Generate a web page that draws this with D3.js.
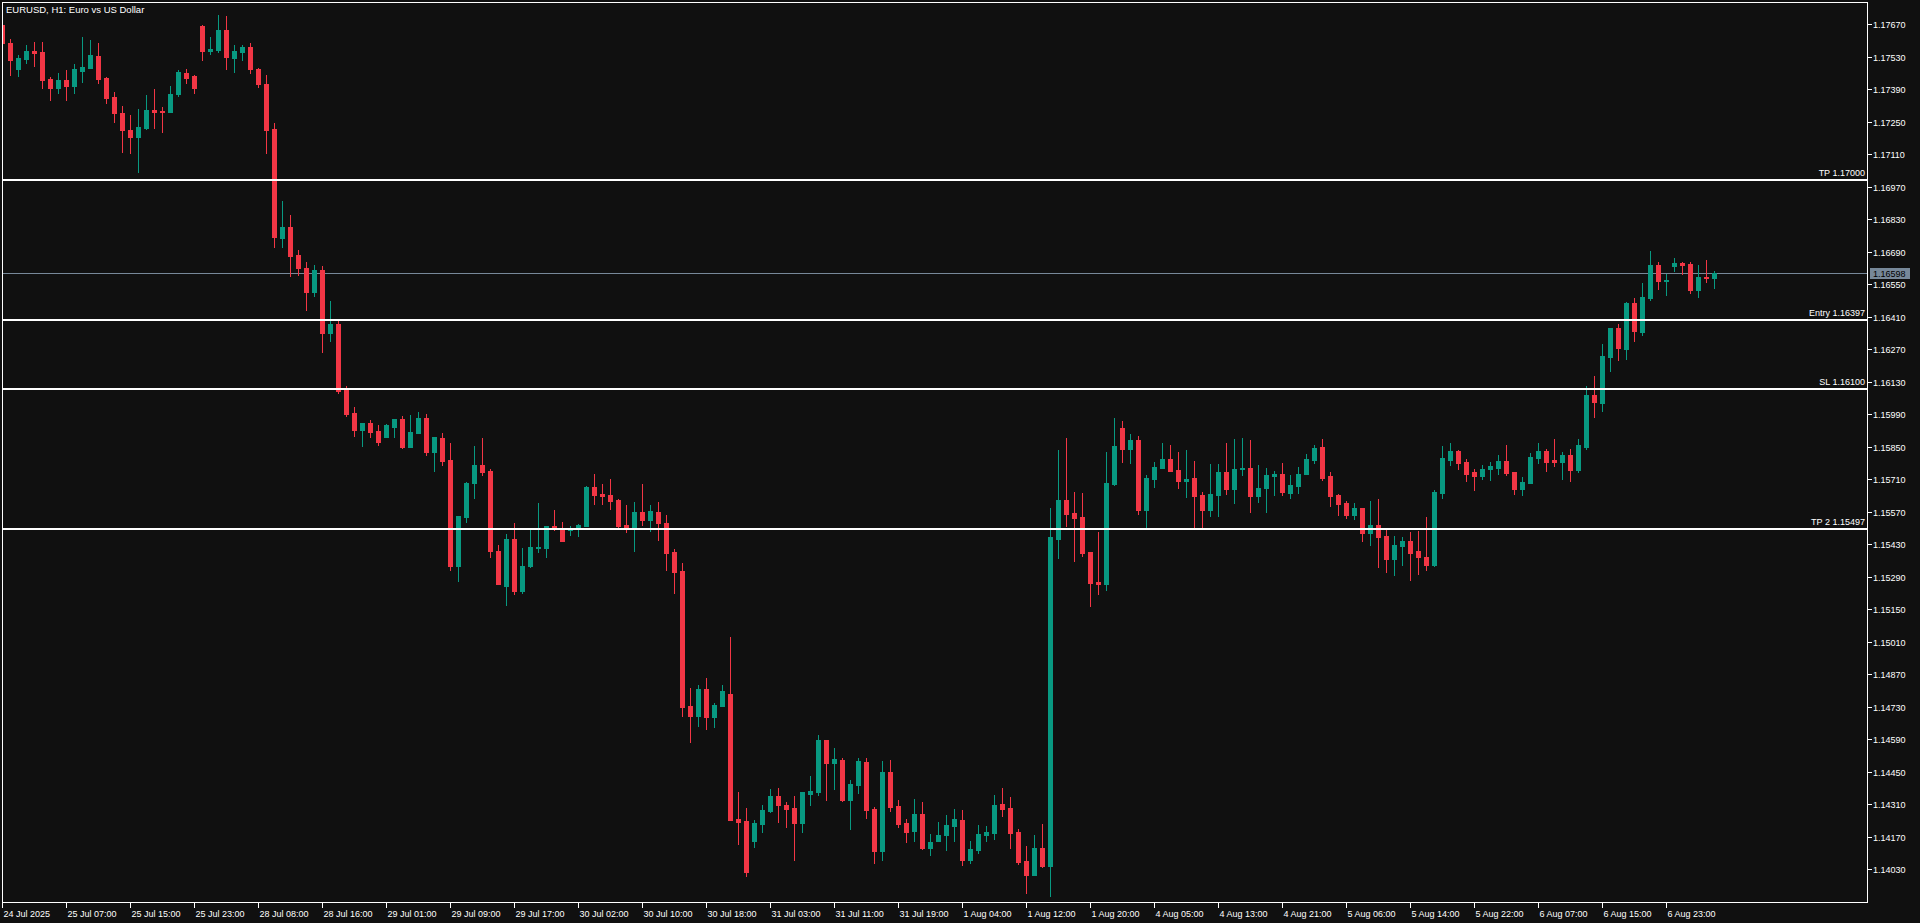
<!DOCTYPE html>
<html><head><meta charset="utf-8">
<script src="https://cdn.jsdelivr.net/npm/d3@7"></script>
<style>html,body{margin:0;padding:0;background:#101010;overflow:hidden}svg{display:block}</style>
</head><body>
<svg id="c" width="1920" height="923"></svg>
<script>
const chartTitle = "EURUSD, H1:  Euro vs US Dollar";

const open = [1.17666,1.17588,1.17476,1.17519,1.17554,1.17549,1.17433,1.17394,1.17429,1.17403,1.17468,1.17480,1.17532,1.17437,1.17356,1.17287,1.17214,1.17183,1.17222,1.17300,1.17295,1.17291,1.17369,1.17459,1.17446,1.17661,1.17554,1.17558,1.17644,1.17524,1.17549,1.17571,1.17476,1.17412,1.17218,1.16748,1.16796,1.16675,1.16619,1.16516,1.16611,1.16339,1.16378,1.16094,1.15995,1.15922,1.15952,1.15917,1.15892,1.15935,1.15969,1.15849,1.15909,1.15973,1.15827,1.15887,1.15793,1.15336,1.15547,1.15694,1.15771,1.15745,1.15401,1.15250,1.15452,1.15228,1.15336,1.15414,1.15414,1.15508,1.15500,1.15491,1.15504,1.15508,1.15676,1.15646,1.15642,1.15620,1.15513,1.15504,1.15569,1.15534,1.15569,1.15521,1.15396,1.15315,1.14733,1.14690,1.14806,1.14686,1.14733,1.14785,1.14247,1.14238,1.14152,1.14225,1.14281,1.14346,1.14307,1.14294,1.14229,1.14354,1.14363,1.14587,1.14488,1.14501,1.14328,1.14393,1.14492,1.14290,1.14109,1.14449,1.14303,1.14229,1.14195,1.14268,1.14122,1.14152,1.14178,1.14217,1.14242,1.14070,1.14113,1.14178,1.14186,1.14311,1.14294,1.14191,1.14066,1.14006,1.14122,1.14044,1.15452,1.15620,1.15564,1.15547,1.15396,1.15267,1.15259,1.15689,1.15930,1.15840,1.15879,1.15577,1.15711,1.15758,1.15797,1.15750,1.15702,1.15715,1.15642,1.15577,1.15642,1.15741,1.15668,1.15754,1.15758,1.15638,1.15672,1.15724,1.15732,1.15650,1.15681,1.15732,1.15793,1.15849,1.15724,1.15642,1.15607,1.15556,1.15586,1.15478,1.15513,1.15465,1.15366,1.15422,1.15444,1.15401,1.15375,1.15340,1.15650,1.15793,1.15831,1.15784,1.15741,1.15724,1.15754,1.15758,1.15788,1.15741,1.15668,1.15694,1.15801,1.15831,1.15793,1.15784,1.15814,1.15750,1.15849,1.16072,1.16038,1.16236,1.16361,1.16271,1.16469,1.16344,1.16490,1.16632,1.16563,1.16628,1.16641,1.16637,1.16525,1.16581,1.16576];

const high = [1.17674,1.17605,1.17536,1.17580,1.17592,1.17592,1.17442,1.17459,1.17472,1.17498,1.17614,1.17601,1.17588,1.17442,1.17377,1.17317,1.17278,1.17304,1.17364,1.17390,1.17313,1.17403,1.17472,1.17476,1.17450,1.17666,1.17614,1.17709,1.17704,1.17580,1.17580,1.17588,1.17480,1.17450,1.17244,1.16908,1.16848,1.16697,1.16645,1.16632,1.16628,1.16477,1.16395,1.16111,1.16021,1.15952,1.15965,1.15943,1.15948,1.15969,1.15982,1.15986,1.15999,1.15991,1.15892,1.15909,1.15866,1.15551,1.15698,1.15853,1.15887,1.15754,1.15427,1.15474,1.15521,1.15414,1.15495,1.15607,1.15508,1.15577,1.15526,1.15508,1.15517,1.15681,1.15732,1.15689,1.15711,1.15625,1.15599,1.15612,1.15689,1.15599,1.15612,1.15556,1.15409,1.15349,1.14811,1.14824,1.14854,1.14746,1.14824,1.15030,1.14363,1.14294,1.14242,1.14307,1.14376,1.14380,1.14320,1.14346,1.14363,1.14432,1.14608,1.14587,1.14552,1.14509,1.14415,1.14509,1.14509,1.14298,1.14496,1.14501,1.14328,1.14247,1.14333,1.14320,1.14182,1.14234,1.14264,1.14290,1.14285,1.14152,1.14221,1.14217,1.14350,1.14380,1.14341,1.14204,1.14130,1.14178,1.14225,1.15586,1.15836,1.15887,1.15655,1.15650,1.15396,1.15483,1.15827,1.15973,1.15960,1.15905,1.15896,1.15728,1.15784,1.15866,1.15857,1.15827,1.15836,1.15788,1.15655,1.15775,1.15775,1.15866,1.15883,1.15887,1.15879,1.15771,1.15758,1.15745,1.15780,1.15728,1.15762,1.15818,1.15857,1.15883,1.15741,1.15646,1.15616,1.15607,1.15586,1.15616,1.15625,1.15495,1.15465,1.15461,1.15483,1.15487,1.15547,1.15663,1.15853,1.15866,1.15836,1.15797,1.15754,1.15771,1.15784,1.15814,1.15857,1.15741,1.15719,1.15823,1.15866,1.15840,1.15883,1.15827,1.15840,1.15883,1.16111,1.16154,1.16292,1.16361,1.16378,1.16473,1.16490,1.16555,1.16692,1.16645,1.16593,1.16662,1.16645,1.16645,1.16632,1.16654,1.16606];

const low = [1.17584,1.17450,1.17446,1.17502,1.17489,1.17394,1.17343,1.17373,1.17343,1.17373,1.17420,1.17480,1.17416,1.17330,1.17248,1.17119,1.17114,1.17033,1.17218,1.17222,1.17205,1.17291,1.17360,1.17416,1.17373,1.17515,1.17541,1.17549,1.17476,1.17463,1.17515,1.17459,1.17399,1.17114,1.16710,1.16710,1.16585,1.16589,1.16438,1.16499,1.16258,1.16305,1.16081,1.15982,1.15896,1.15853,1.15892,1.15857,1.15892,1.15892,1.15844,1.15849,1.15909,1.15814,1.15745,1.15771,1.15319,1.15272,1.15526,1.15629,1.15728,1.15375,1.15259,1.15168,1.15216,1.15220,1.15332,1.15396,1.15375,1.15491,1.15444,1.15470,1.15465,1.15508,1.15603,1.15603,1.15582,1.15504,1.15483,1.15401,1.15513,1.15487,1.15448,1.15319,1.15220,1.14690,1.14578,1.14647,1.14634,1.14643,1.14733,1.14242,1.14139,1.14001,1.14126,1.14191,1.14277,1.14234,1.14212,1.14070,1.14191,1.14307,1.14350,1.14328,1.14376,1.14324,1.14204,1.14359,1.14251,1.14057,1.14070,1.14281,1.14212,1.14148,1.14152,1.14118,1.14092,1.14152,1.14113,1.14152,1.14049,1.14057,1.14100,1.14152,1.14161,1.14260,1.14122,1.14053,1.13928,1.14006,1.14040,1.13915,1.15371,1.15508,1.15358,1.15379,1.15164,1.15216,1.15233,1.15685,1.15784,1.15780,1.15560,1.15504,1.15676,1.15758,1.15745,1.15672,1.15633,1.15504,1.15504,1.15551,1.15551,1.15646,1.15607,1.15728,1.15569,1.15612,1.15569,1.15642,1.15642,1.15629,1.15650,1.15732,1.15780,1.15706,1.15594,1.15556,1.15543,1.15538,1.15444,1.15427,1.15332,1.15310,1.15297,1.15340,1.15276,1.15302,1.15319,1.15336,1.15629,1.15771,1.15754,1.15702,1.15663,1.15711,1.15706,1.15732,1.15728,1.15646,1.15642,1.15694,1.15780,1.15745,1.15767,1.15711,1.15702,1.15741,1.15840,1.15978,1.16004,1.16176,1.16223,1.16227,1.16305,1.16331,1.16482,1.16529,1.16503,1.16606,1.16593,1.16512,1.16494,1.16559,1.16533];

const close = [1.17588,1.17515,1.17524,1.17554,1.17545,1.17429,1.17394,1.17429,1.17403,1.17476,1.17485,1.17536,1.17433,1.17351,1.17287,1.17214,1.17183,1.17226,1.17300,1.17291,1.17291,1.17369,1.17463,1.17437,1.17394,1.17554,1.17562,1.17644,1.17528,1.17554,1.17571,1.17476,1.17412,1.17214,1.16753,1.16796,1.16671,1.16619,1.16516,1.16611,1.16339,1.16378,1.16090,1.15991,1.15922,1.15952,1.15913,1.15870,1.15943,1.15969,1.15849,1.15913,1.15973,1.15827,1.15892,1.15788,1.15336,1.15551,1.15694,1.15771,1.15741,1.15401,1.15259,1.15452,1.15228,1.15336,1.15418,1.15418,1.15508,1.15500,1.15444,1.15495,1.15513,1.15676,1.15642,1.15638,1.15616,1.15508,1.15504,1.15569,1.15534,1.15573,1.15521,1.15392,1.15310,1.14729,1.14690,1.14806,1.14686,1.14738,1.14798,1.14242,1.14234,1.14018,1.14229,1.14285,1.14346,1.14307,1.14290,1.14229,1.14363,1.14367,1.14587,1.14488,1.14505,1.14328,1.14397,1.14496,1.14285,1.14109,1.14449,1.14298,1.14225,1.14191,1.14268,1.14122,1.14148,1.14178,1.14221,1.14247,1.14070,1.14118,1.14182,1.14191,1.14307,1.14290,1.14186,1.14062,1.14006,1.14122,1.14044,1.15461,1.15620,1.15560,1.15543,1.15392,1.15263,1.15259,1.15694,1.15853,1.15840,1.15879,1.15577,1.15715,1.15762,1.15797,1.15745,1.15702,1.15711,1.15638,1.15577,1.15646,1.15741,1.15668,1.15754,1.15758,1.15638,1.15672,1.15728,1.15732,1.15655,1.15685,1.15732,1.15797,1.15844,1.15715,1.15638,1.15603,1.15556,1.15586,1.15478,1.15513,1.15461,1.15366,1.15427,1.15444,1.15392,1.15375,1.15340,1.15655,1.15801,1.15831,1.15780,1.15732,1.15724,1.15754,1.15767,1.15788,1.15737,1.15668,1.15698,1.15805,1.15831,1.15784,1.15784,1.15814,1.15750,1.15857,1.16072,1.16042,1.16240,1.16361,1.16275,1.16469,1.16348,1.16494,1.16632,1.16563,1.16568,1.16641,1.16632,1.16525,1.16581,1.16576,1.16598];

const timeLabels = ["24 Jul 2025","25 Jul 07:00","25 Jul 15:00","25 Jul 23:00","28 Jul 08:00","28 Jul 16:00","29 Jul 01:00","29 Jul 09:00","29 Jul 17:00","30 Jul 02:00","30 Jul 10:00","30 Jul 18:00","31 Jul 03:00","31 Jul 11:00","31 Jul 19:00","1 Aug 04:00","1 Aug 12:00","1 Aug 20:00","4 Aug 05:00","4 Aug 13:00","4 Aug 21:00","5 Aug 06:00","5 Aug 14:00","5 Aug 22:00","6 Aug 07:00","6 Aug 15:00","6 Aug 23:00"];
const timeLabelStep = 8; // bars between time labels

const priceTicks = ["1.17670","1.17530","1.17390","1.17250","1.17110","1.16970","1.16830","1.16690","1.16550","1.16410","1.16270","1.16130","1.15990","1.15850","1.15710","1.15570","1.15430","1.15290","1.15150","1.15010","1.14870","1.14730","1.14590","1.14450","1.14310","1.14170","1.14030"];

const levelNames = ["TP","Entry","SL","TP 2"];
const levelValues = [1.17000, 1.16397, 1.16100, 1.15497];
const currentPrice = 1.16598;

// ---- layout ----
const plot = {left: 2, top: 2, right: 1867, bottom: 902};
const upColor = "#089981", downColor = "#f23645";
const fontFam = "'Liberation Sans', Arial, sans-serif";

const svg = d3.select("#c");
svg.append("rect").attr("width",1920).attr("height",923).attr("fill","#101010");

const y = d3.scaleLinear().domain([1.138893, 1.177647]).range([plot.bottom, plot.top]);
const x = d3.scaleLinear().domain([0, 1]).range([2.5, 10.5]); // one bar every 8 px
const Y = v => Math.round(y(v));

svg.append("clipPath").attr("id","plotClip").append("rect")
  .attr("x", plot.left+1).attr("y", plot.top+1)
  .attr("width", plot.right-plot.left-1).attr("height", plot.bottom-plot.top-1);

const pg = svg.append("g").attr("clip-path","url(#plotClip)").attr("shape-rendering","crispEdges");

// current price line (behind candles)
pg.append("line")
  .attr("x1", plot.left).attr("x2", plot.right)
  .attr("y1", Y(currentPrice)+0.5).attr("y2", Y(currentPrice)+0.5)
  .attr("stroke","#778899").attr("stroke-width",1);

const idx = d3.range(close.length);
const col = i => close[i] >= open[i] ? upColor : downColor;

pg.selectAll("rect.wick").data(idx).join("rect").attr("class","wick")
  .attr("x", i => x(i) - 0.5).attr("width", 1)
  .attr("y", i => Y(high[i]))
  .attr("height", i => Math.max(1, Y(low[i]) - Y(high[i]) + 1))
  .attr("fill", col);

pg.selectAll("rect.body").data(idx).join("rect").attr("class","body")
  .attr("x", i => x(i) - 2.5).attr("width", 5)
  .attr("y", i => Y(Math.max(open[i], close[i])))
  .attr("height", i => Math.max(1, Y(Math.min(open[i], close[i])) - Y(Math.max(open[i], close[i])) + 1))
  .attr("fill", col);

// trade levels
const lv = svg.append("g");
levelValues.forEach((v, k) => {
  lv.append("rect").attr("x", plot.left).attr("y", Y(v)-1)
    .attr("width", plot.right-plot.left).attr("height", 2).attr("fill","#ffffff")
    .attr("shape-rendering","crispEdges");
  lv.append("text").attr("x", plot.right-2).attr("y", Y(v)-4)
    .attr("text-anchor","end").attr("fill","#ffffff")
    .attr("font-family", fontFam).attr("font-size", 9)
    .text(levelNames[k] + " " + v.toFixed(5));
});

// frame
svg.append("rect").attr("x", plot.left+0.5).attr("y", plot.top+0.5)
  .attr("width", plot.right-plot.left).attr("height", plot.bottom-plot.top)
  .attr("fill","none").attr("stroke","#ffffff").attr("stroke-width",1)
  .attr("shape-rendering","crispEdges");

// price axis
const pa = svg.append("g");
priceTicks.forEach(t => {
  const yy = Y(+t) + 0.5;
  pa.append("line").attr("x1", plot.right+1).attr("x2", plot.right+5)
    .attr("y1", yy).attr("y2", yy).attr("stroke","#ffffff").attr("shape-rendering","crispEdges");
  pa.append("text").attr("x", plot.right+6).attr("y", yy).attr("dy","0.35em")
    .attr("fill","#ffffff").attr("font-family", fontFam).attr("font-size", 9).text(t);
});

// current price tag
const cy = Y(currentPrice);
pa.append("rect").attr("x", plot.right+3).attr("y", cy-5).attr("width", 40).attr("height", 11)
  .attr("fill","#778899").attr("shape-rendering","crispEdges");
pa.append("text").attr("x", plot.right+6).attr("y", cy+0.5).attr("dy","0.35em")
  .attr("fill","#000000").attr("font-family", fontFam).attr("font-size", 9)
  .text(currentPrice.toFixed(5));

// time axis
const ta = svg.append("g");
timeLabels.forEach((lab, k) => {
  const xx = x(k*timeLabelStep);
  ta.append("line").attr("x1", xx).attr("x2", xx)
    .attr("y1", plot.bottom+1).attr("y2", plot.bottom+6)
    .attr("stroke","#ffffff").attr("shape-rendering","crispEdges");
  ta.append("text").attr("x", xx+1).attr("y", plot.bottom+15)
    .attr("fill","#ffffff").attr("font-family", fontFam).attr("font-size", 9).text(lab);
});

// title
svg.append("text").attr("x", 6).attr("y", 13)
  .attr("fill","#ffffff").attr("font-family", fontFam).attr("font-size", 9.5)
  .text(chartTitle);
</script>
</body></html>
